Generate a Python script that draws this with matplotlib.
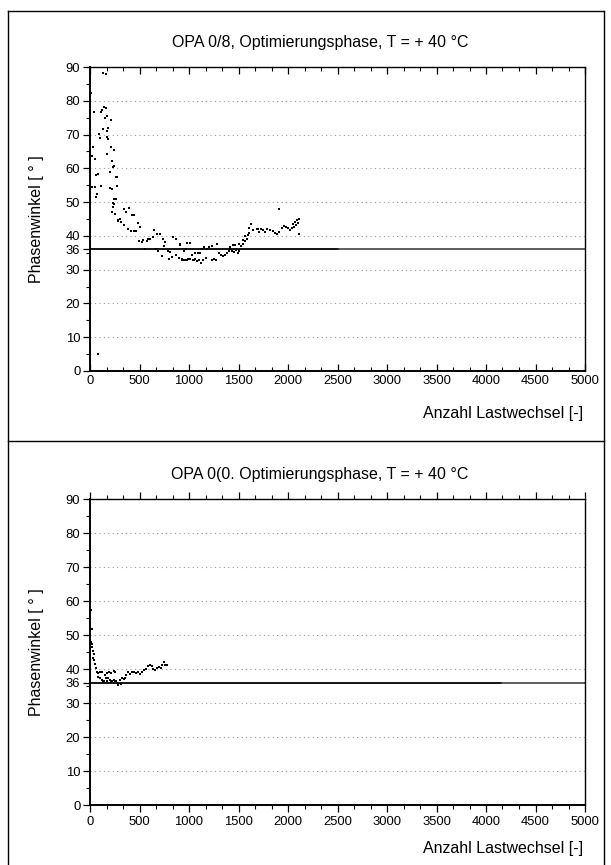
import matplotlib
matplotlib.use("Agg")
import matplotlib.pyplot as plt
from matplotlib.lines import Line2D
from matplotlib.ticker import MultipleLocator, FixedLocator

plt.rcParams['font.family'] = ['Liberation Sans', 'DejaVu Sans']

# ---------------- data ----------------
title_top = "OPA 0/8, Optimierungsphase, T = + 40 °C"
title_bot = "OPA 0(0. Optimierungsphase, T = + 40 °C"
xlabel = "Anzahl Lastwechsel [-]"
ylabel = "Phasenwinkel [ ° ]"
ref_level = 36
yticks = [0, 10, 20, 30, 36, 40, 50, 60, 70, 80, 90]
ygrid = [10, 20, 30, 40, 50, 60, 70, 80]
xticks = [0, 500, 1000, 1500, 2000, 2500, 3000, 3500, 4000, 4500, 5000]

x_top = [10, 5, 81, 134, 158,
         37, 108, 118, 145, 158, 168, 152, 212,
         135, 185, 168, 91, 175, 98, 182,
         34, 209, 246, 17, 51, 175, 219, 236, 239,
         78, 64, 199, 270, 266,
         23, 51, 111, 273, 199, 225,
         71, 64, 260, 246,
         232, 239, 232, 225, 252,
         279, 300, 286, 313, 347,
         340, 367, 394, 380,
         414, 441, 462, 428, 448,
         482, 508, 495, 522, 535, 576, 556,
         583, 603, 636, 649, 677, 704, 663, 690, 724,
         737, 758, 751, 791, 811, 838, 865,
         798, 831, 865, 899, 926, 952, 987,
         912, 946, 973, 1013, 1034, 1047,
         909, 983, 1010,
         929, 956, 983, 1010, 1037, 1057, 1077, 1098,
         1125, 1145, 1172, 1232, 1253, 1273,
         1057, 1091, 1111,
         1131, 1151, 1179, 1205, 1232, 1280,
         1306, 1326, 1346, 1367,
         1380, 1400, 1414, 1434, 1454, 1475, 1495, 1508, 1528, 1548, 1569, 1582,
         1414, 1441, 1468, 1502, 1542,
         1569, 1596, 1609, 1623, 1609,
         1650, 1684, 1697, 1710, 1731, 1751, 1771, 1791, 1818, 1845, 1865, 1885, 1905,
         1939, 1959, 1979, 2000, 2020, 2040, 2060, 2080, 2101,
         2114, 1912, 2108, 2087, 2074, 2054]
y_top = [82.2, 88.5, 5.0, 88.3, 87.8,
         76.6, 76.8, 77.3, 78.2, 77.8, 75.5, 74.9, 74.4,
         71.6, 71.8, 71.0, 70.2, 69.4, 69.0, 68.6,
         66.4, 66.2, 65.5, 63.6, 62.9, 64.1, 62.2, 60.5, 60.7,
         58.3, 57.9, 59.0, 57.3, 57.5,
         54.6, 54.6, 54.8, 54.9, 54.2, 54.0,
         52.4, 51.6, 51.0, 50.8,
         49.8, 49.4, 48.6, 47.2, 46.6,
         44.7, 45.1, 44.3, 44.1, 43.1,
         47.9, 47.2, 48.4, 42.1,
         41.3, 41.3, 41.4, 46.1, 46.1,
         43.7, 42.7, 38.6, 38.2, 38.8, 38.4, 36.2,
         39.2, 39.2, 39.6, 41.7, 40.6, 40.6, 36.0, 35.6, 34.0,
         39.2, 38.2, 37.0, 35.6, 35.2, 39.6, 39.2,
         33.2, 33.8, 34.2, 33.6, 33.2, 33.0, 33.2,
         37.4, 35.6, 36.2, 38.0, 34.2, 32.9,
         37.6, 37.8, 38.0,
         33.0, 33.0, 33.0, 33.2, 32.8, 33.1, 32.7, 33.0,
         31.9, 33.0, 33.6, 33.0, 33.2, 33.0,
         35.0, 35.0, 34.8,
         36.2, 36.8, 36.2, 36.8, 37.0, 37.6,
         35.0, 34.4, 34.0, 34.4,
         35.0, 35.6, 36.2, 35.6, 35.2, 35.8, 35.0, 35.6, 37.0, 37.6, 38.4, 39.0,
         36.8, 37.2, 37.4, 37.6, 38.8,
         40.0, 40.4, 40.8, 43.5, 42.3,
         41.7, 42.1, 41.9, 41.1, 41.9, 41.7, 41.1, 41.9, 41.7, 41.3, 40.9, 40.7, 41.1,
         42.3, 42.9, 42.5, 42.3, 41.7, 42.3, 42.7, 43.3, 43.7,
         40.5, 47.9, 45.1, 44.7, 44.1, 43.5]

x_bot = [10, 17, 10, 23, 17, 30, 37, 30, 43, 51, 64, 71, 84, 104, 118,
         84, 104, 124, 145, 165, 185, 205, 226, 246, 266, 286, 300, 320, 340, 354,
         135, 175, 215, 255, 280, 310,
         151, 172, 192, 212, 239, 253,
         367, 380, 400, 421, 441, 461, 482, 502, 522, 542, 562, 582, 603, 623,
         636, 657, 677, 697, 717, 730, 744, 758, 778]
y_bot = [57.4, 51.7, 47.8, 47.4, 46.6, 45.3, 44.3, 43.3, 42.7, 41.4, 40.4, 39.2, 38.9, 39.1, 39.2,
         37.7, 37.5, 36.9, 36.6, 37.3, 37.5, 36.9, 36.6, 36.9, 36.6, 35.4, 36.9, 37.3, 37.0, 37.5,
         36.2, 36.4, 36.3, 36.4, 36.0, 35.6,
         38.3, 38.7, 39.1, 38.9, 39.3, 39.1,
         38.2, 39.0, 38.6, 39.0, 39.2, 38.8, 39.2, 38.6, 39.2, 39.8, 40.0, 40.8, 41.2, 41.0,
         40.0, 39.8, 40.4, 40.6, 40.2, 41.2, 42.0, 41.2, 41.2]

# ---------------- figure ----------------
W, H = 611, 865
fig = plt.figure(figsize=(W / 100, H / 100), dpi=100)

def fx(px):
    return px / W

def fy(py):
    return 1 - py / H

# frame lines
for (x0, y0, x1, y1) in [(8, 11, 604, 11), (8, 11, 8, 865), (604, 11, 604, 865), (8, 441, 604, 441)]:
    fig.add_artist(Line2D([fx(x0), fx(x1)], [fy(y0), fy(y1)], color='black', lw=1.0))

def make_panel(top_px, bot_px, title_py, xlab_py, xs, ys, title, xdir, grey_from):
    ax = fig.add_axes([fx(90), fy(bot_px), fx(585) - fx(90), fy(top_px) - fy(bot_px)])
    ax.set_xlim(0, 5000)
    ax.set_ylim(0, 90)
    for yv in ygrid:
        ax.axhline(yv, color='#999999', lw=0.8, ls=(0, (1, 3)), zorder=1)
    ax.plot([0, grey_from], [ref_level, ref_level], color='black', lw=1.3, zorder=2)
    ax.plot([grey_from, 5000], [ref_level, ref_level], color='#333333', lw=1.1, zorder=2)
    ax.plot(xs, ys, ls='none', marker='s', ms=2.1, color='black', mew=0, zorder=3)
    ax.xaxis.set_major_locator(FixedLocator(xticks))
    ax.xaxis.set_minor_locator(MultipleLocator(500 / 3))
    ax.yaxis.set_major_locator(FixedLocator(yticks))
    ax.yaxis.set_minor_locator(MultipleLocator(5))
    ax.tick_params(axis='x', which='both', direction=xdir, top=True, labelsize=9.4, pad=3)
    ax.tick_params(axis='x', which='major', length=5, width=0.9)
    ax.tick_params(axis='x', which='minor', length=3, width=0.8)
    ax.tick_params(axis='y', which='both', direction='out', right=False, labelsize=9.4, pad=2)
    ax.tick_params(axis='y', which='major', length=5, width=0.9)
    ax.tick_params(axis='y', which='minor', length=3, width=0.8)
    for s in ax.spines.values():
        s.set_linewidth(1.0)
    ax.spines['left'].set_linewidth(1.4)
    ax.spines['bottom'].set_linewidth(1.4)
    ax.set_ylabel(ylabel, fontsize=11.5)
    ax.yaxis.set_label_coords((44 - 90) / 495, 0.5)
    fig.text(fx(320), fy(title_py), title, ha='center', va='center', fontsize=11.5)
    fig.text(fx(583), fy(xlab_py), xlabel, ha='right', va='center', fontsize=11.5)
    return ax

make_panel(67, 371, 42, 413, x_top, y_top, title_top, 'in', 2500)
make_panel(499, 805, 475, 848, x_bot, y_bot, title_bot, 'out', 4150)

fig.savefig("out.png", dpi=100)
